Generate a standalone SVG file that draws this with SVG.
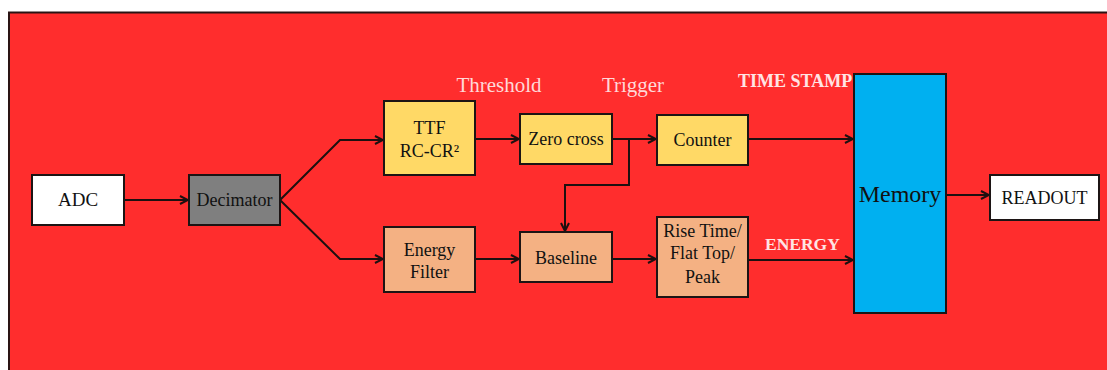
<svg xmlns="http://www.w3.org/2000/svg" width="1107" height="370" viewBox="0 0 1107 370">
<defs>
<style>
.n{stroke:#1c1414;stroke-width:2}
.t{font-family:"Liberation Serif","Times New Roman",serif;font-size:18px;fill:#111;text-anchor:middle}
.lbl{font-family:"Liberation Serif","Times New Roman",serif;font-size:21px;fill:#ffd8d8;text-anchor:middle}
.blbl{font-family:"Liberation Serif","Times New Roman",serif;font-size:17.5px;font-weight:bold;fill:#ffe4e4}
.c{fill:none;stroke:#1c1010;stroke-width:2}
</style>
<marker id="ah" viewBox="0 0 10 10" refX="9" refY="5" markerWidth="10" markerHeight="10" markerUnits="userSpaceOnUse" orient="auto">
<path d="M1,1 L9,5 L1,9" fill="none" stroke="#1c1010" stroke-width="2"/>
</marker>
</defs>
<rect x="0" y="0" width="1107" height="370" fill="#ffffff"/>
<rect id="frame" x="9" y="12.5" width="1110" height="370" fill="#ff2d2d" stroke="#2a1414" stroke-width="2"/>

<g id="connectors">
<path class="c" d="M124,200 L188,200" marker-end="url(#ah)"/>
<path class="c" d="M280,200 L340,140 L383,140" marker-end="url(#ah)"/>
<path class="c" d="M280,200 L340,259 L383,259" marker-end="url(#ah)"/>
<path class="c" d="M475,139 L519,139" marker-end="url(#ah)"/>
<path class="c" d="M612,139 L656,139" marker-end="url(#ah)"/>
<path class="c" d="M629,139 L629,185 L565,185 L565,231" marker-end="url(#ah)"/>
<path class="c" d="M475,259 L519,259" marker-end="url(#ah)"/>
<path class="c" d="M612,259 L656,259" marker-end="url(#ah)"/>
<path class="c" d="M748,139 L853,139" marker-end="url(#ah)"/>
<path class="c" d="M748,260 L853,260" marker-end="url(#ah)"/>
<path class="c" d="M946,195 L989,195" marker-end="url(#ah)"/>
</g>

<g id="adc"><rect class="n" x="32" y="175" width="92" height="50" fill="#ffffff"/><text class="t" x="78" y="206" style="font-size:19px">ADC</text></g>
<g id="decimator"><rect class="n" x="189" y="175" width="91" height="50" fill="#7f7f7f"/><text class="t" x="234.5" y="206">Decimator</text></g>
<g id="ttf"><rect class="n" x="384" y="101" width="91" height="74" fill="#ffd966"/><text class="t" x="429.5" y="134">TTF</text><text class="t" x="429.5" y="157">RC-CR²</text></g>
<g id="zerocross"><rect class="n" x="520" y="114" width="92" height="50" fill="#ffd966"/><text class="t" x="566" y="145">Zero cross</text></g>
<g id="counter"><rect class="n" x="657" y="115" width="91" height="50" fill="#ffd966"/><text class="t" x="702.5" y="146">Counter</text></g>
<g id="energyfilter"><rect class="n" x="384" y="227" width="91" height="65" fill="#f4b183"/><text class="t" x="429.5" y="256">Energy</text><text class="t" x="429.5" y="278">Filter</text></g>
<g id="baseline"><rect class="n" x="520" y="232" width="92" height="50" fill="#f4b183"/><text class="t" x="566" y="264">Baseline</text></g>
<g id="risetime"><rect class="n" x="657" y="217" width="91" height="80" fill="#f4b183"/><text class="t" x="702.5" y="237">Rise Time/</text><text class="t" x="702.5" y="259">Flat Top/</text><text class="t" x="702.5" y="283">Peak</text></g>
<g id="memory"><rect class="n" x="854" y="74" width="92" height="239" fill="#00b0f0"/><text class="t" x="900" y="202" style="font-size:24px">Memory</text></g>
<g id="readout"><rect class="n" x="990" y="175" width="109" height="45" fill="#ffffff"/><text class="t" x="1044.5" y="204">READOUT</text></g>

<g id="labels">
<text class="lbl" x="499" y="92">Threshold</text>
<text class="lbl" x="633" y="92">Trigger</text>
<text class="blbl" x="738" y="87" style="font-size:18px">TIME STAMP</text>
<text class="blbl" x="765" y="250">ENERGY</text>
</g>
</svg>
